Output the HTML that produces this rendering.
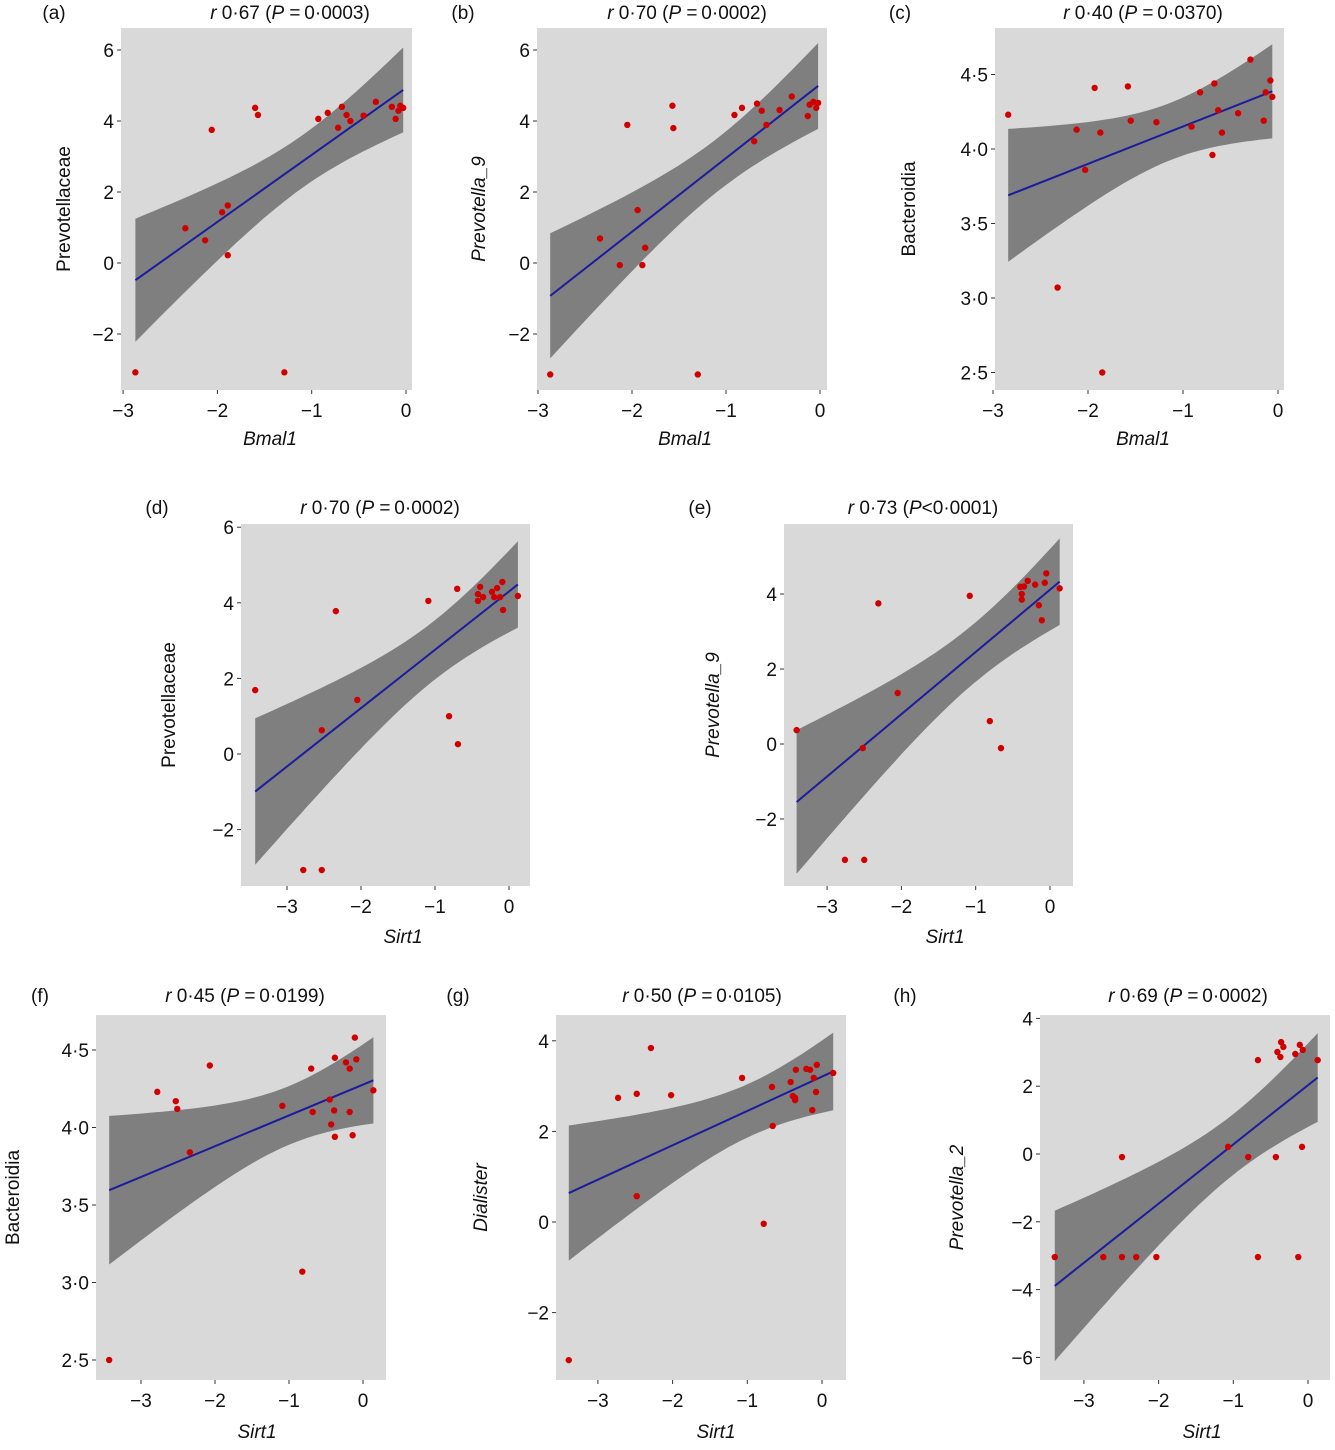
<!DOCTYPE html>
<html><head><meta charset="utf-8">
<style>
html,body{margin:0;padding:0;background:#fff;}
svg text{font-family:"Liberation Sans",Arial,sans-serif;fill:#111;}
</style></head>
<body>
<svg id="fig" width="1335" height="1445" viewBox="0 0 1335 1445" xmlns="http://www.w3.org/2000/svg"></svg>
<script>
// ---- data arrays (data units) ----
const aX=[-2.87,-2.34,-2.13,-1.95,-1.89,-1.89,-2.06,-1.60,-1.57,-1.29,-0.93,-0.83,-0.72,-0.68,-0.63,-0.59,-0.45,-0.32,-0.15,-0.11,-0.08,-0.06,-0.03];
const aY=[-3.08,0.98,0.64,1.43,1.62,0.22,3.75,4.37,4.17,-3.08,4.06,4.23,3.81,4.40,4.17,4.0,4.15,4.54,4.40,4.06,4.29,4.43,4.37];
const bX=[-2.87,-2.34,-2.13,-2.05,-1.94,-1.89,-1.86,-1.57,-1.56,-1.30,-0.91,-0.83,-0.70,-0.67,-0.62,-0.57,-0.43,-0.30,-0.13,-0.11,-0.07,-0.04,-0.02];
const bY=[-3.14,0.69,-0.06,3.89,1.49,-0.06,0.43,4.43,3.8,-3.14,4.17,4.37,3.43,4.49,4.29,3.89,4.31,4.69,4.14,4.46,4.54,4.37,4.51];
const cX=[-2.84,-2.12,-2.03,-1.93,-1.87,-1.85,-2.32,-1.58,-1.55,-1.28,-0.91,-0.82,-0.69,-0.67,-0.63,-0.59,-0.42,-0.29,-0.15,-0.13,-0.08,-0.06];
const cY=[4.23,4.13,3.86,4.41,4.11,2.50,3.07,4.42,4.19,4.18,4.15,4.38,3.96,4.44,4.26,4.11,4.24,4.60,4.19,4.38,4.46,4.35];
const dX=[-3.43,-2.53,-2.34,-2.05,-2.78,-2.53,-1.09,-0.81,-0.69,-0.70,-0.42,-0.42,-0.39,-0.35,-0.23,-0.20,-0.16,-0.12,-0.09,-0.08,0.12];
const dY=[1.69,0.63,3.78,1.43,-3.07,-3.07,4.05,1.0,0.26,4.37,4.23,4.05,4.42,4.15,4.29,4.15,4.39,4.15,4.55,3.81,4.18];
const eX=[-3.41,-2.76,-2.50,-2.52,-2.31,-2.05,-1.08,-0.81,-0.66,-0.40,-0.38,-0.35,-0.30,-0.20,-0.15,-0.11,-0.07,-0.05,0.13,-0.38];
const eY=[0.37,-3.09,-3.09,-0.11,3.75,1.36,3.95,0.61,-0.11,4.19,4.0,4.2,4.35,4.25,3.7,3.3,4.3,4.55,4.15,3.85];
const fX=[-3.43,-2.78,-2.53,-2.51,-2.34,-2.07,-1.09,-0.82,-0.70,-0.68,-0.45,-0.43,-0.39,-0.38,-0.38,-0.23,-0.18,-0.14,-0.11,-0.09,-0.18,0.14];
const fY=[2.50,4.23,4.17,4.12,3.84,4.40,4.14,3.07,4.38,4.10,4.18,4.02,4.11,4.45,3.94,4.42,4.38,3.95,4.58,4.44,4.10,4.24];
const gX=[-3.39,-2.73,-2.48,-2.48,-2.29,-2.02,-1.07,-0.78,-0.67,-0.66,-0.42,-0.39,-0.36,-0.35,-0.36,-0.21,-0.16,-0.13,-0.11,-0.07,-0.08,0.15];
const gY=[-3.05,2.74,2.83,0.57,3.84,2.80,3.18,-0.04,2.98,2.12,3.09,2.78,2.74,3.36,2.69,3.38,3.36,2.47,3.18,3.47,2.87,3.29];
const hX=[-3.39,-2.74,-2.49,-2.49,-2.30,-2.03,-1.07,-0.80,-0.67,-0.67,-0.43,-0.41,-0.37,-0.36,-0.33,-0.17,-0.13,-0.11,-0.08,-0.07,0.13];
const hY=[-3.04,-3.04,-0.09,-3.04,-3.04,-3.04,0.21,-0.09,-3.04,2.77,-0.09,3.01,2.86,3.30,3.16,2.95,-3.04,3.22,0.21,3.07,2.77];
const xTicks=[-3,-2,-1,0];
const yTicksA=[-2,0,2,4,6], yTicksC=[2.5,3.0,3.5,4.0,4.5], yTicksD=[-2,0,2,4,6], yTicksE=[-2,0,2,4], yTicksG=[-2,0,2,4], yTicksH=[-6,-4,-2,0,2,4];
const titles=["0·67","0·70","0·40","0·70","0·73","0·45","0·50","0·69"];
const pvals=["= 0·0003","= 0·0002","= 0·0370","= 0·0002","<0·0001","= 0·0199","= 0·0105","= 0·0002"];

const panels=[
 {id:'a',X:aX,Y:aY,r:[121,28,412,390],x0:406,xs:94.3,y0:263,yv0:0,ys:35.5,yt:yTicksA,dec:false,yl:'Prevotellaceae',yi:false,ylx:63,xl:'Bmal1',xlx:270,xly:445,tx:290,ty:19,lx:54},
 {id:'b',X:bX,Y:bY,r:[537,28,827,390],x0:820,xs:94,y0:263,yv0:0,ys:35.5,yt:yTicksA,dec:false,yl:'Prevotella_9',yi:true,ylx:478,xl:'Bmal1',xlx:685,xly:445,tx:687,ty:19,lx:463},
 {id:'c',X:cX,Y:cY,r:[995,28,1284,390],x0:1278,xs:95,y0:149,yv0:4,ys:149,yt:yTicksC,dec:true,yl:'Bacteroidia',yi:false,ylx:908,xl:'Bmal1',xlx:1143,xly:445,tx:1143,ty:19,lx:900},
 {id:'d',X:dX,Y:dY,r:[241,524,530,886],x0:509,xs:74,y0:754,yv0:0,ys:37.8,yt:yTicksD,dec:false,yl:'Prevotellaceae',yi:false,ylx:168,xl:'Sirt1',xlx:403,xly:943,tx:380,ty:514,lx:157},
 {id:'e',X:eX,Y:eY,r:[784,524,1073,886],x0:1050,xs:74.3,y0:744,yv0:0,ys:37.5,yt:yTicksE,dec:false,yl:'Prevotella_9',yi:true,ylx:712,xl:'Sirt1',xlx:945,xly:943,tx:923,ty:514,lx:700},
 {id:'f',X:fX,Y:fY,r:[96,1015,386,1380],x0:363,xs:74,y0:1050,yv0:4.5,ys:155,yt:yTicksC,dec:true,yl:'Bacteroidia',yi:false,ylx:12,xl:'Sirt1',xlx:257,xly:1438,tx:245,ty:1002,lx:40},
 {id:'g',X:gX,Y:gY,r:[556,1015,846,1380],x0:822,xs:74.7,y0:1222,yv0:0,ys:45.3,yt:yTicksG,dec:false,yl:'Dialister',yi:true,ylx:480,xl:'Sirt1',xlx:716,xly:1438,tx:702,ty:1002,lx:458},
 {id:'h',X:hX,Y:hY,r:[1040,1015,1330,1380],x0:1308,xs:74.7,y0:1154,yv0:0,ys:33.9,yt:yTicksH,dec:false,yl:'Prevotella_2',yi:true,ylx:956,xl:'Sirt1',xlx:1202,xly:1438,tx:1188,ty:1002,lx:905}
];
const NS='http://www.w3.org/2000/svg';
const svg=document.getElementById('fig');
function mk(tag,at,parent){const e=document.createElementNS(NS,tag);for(const k in at)e.setAttribute(k,at[k]);(parent||svg).appendChild(e);return e;}

panels.forEach((p,i)=>{
 const g=mk('g',{});
 
 
 const sx=v=>p.x0+v*p.xs, sy=v=>p.y0-(v-p.yv0)*p.ys;
 const bg=mk('rect',{x:p.r[0],y:p.r[1],width:p.r[2]-p.r[0],height:p.r[3]-p.r[1],fill:'#d9d9d9'},g);
 
 
 const n=p.X.length;let mx=0,my=0;for(let k=0;k<n;k++){mx+=p.X[k];my+=p.Y[k];}mx/=n;my/=n;
 let sxx=0,sxy=0;for(let k=0;k<n;k++){sxx+=(p.X[k]-mx)**2;sxy+=(p.X[k]-mx)*(p.Y[k]-my);}
 const b=sxy/sxx,a=my-b*mx;let sse=0;for(let k=0;k<n;k++)sse+=(p.Y[k]-a-b*p.X[k])**2;
 const s=Math.sqrt(sse/(n-2)),t=2.08;
 const xmin=Math.min(...p.X),xmax=Math.max(...p.X);
 const up=[],lo=[];
 for(let k=0;k<=40;k++){const x=xmin+(xmax-xmin)*k/40;const se=s*Math.sqrt(1/n+(x-mx)**2/sxx);const f=a+b*x;up.push(sx(x).toFixed(1)+','+sy(f+t*se).toFixed(1));lo.unshift(sx(x).toFixed(1)+','+sy(f-t*se).toFixed(1));}
 const band=mk('polygon',{points:up.concat(lo).join(' '),fill:'#7f7f7f'},g);
 
 
 const ln=mk('line',{x1:sx(xmin),y1:sy(a+b*xmin),x2:sx(xmax),y2:sy(a+b*xmax),stroke:'#1c1c9c','stroke-width':2},g);
 
 
 for(let k=0;k<n;k++){
  const c=mk('circle',{cx:sx(p.X[k]),cy:sy(p.Y[k]),r:3.2,fill:'#d10000'},g);
  
  
 }
 xTicks.forEach(v=>{
  mk('line',{x1:sx(v),x2:sx(v),y1:p.r[3],y2:p.r[3]+4,stroke:'#333','stroke-width':1},g);
  const tl=mk('text',{x:sx(v),y:p.r[3]+27,'font-size':19,'text-anchor':'middle'},g);
  tl.textContent=v<0?'\u2212'+Math.abs(v):String(v);
  
  
 });
 p.yt.forEach(v=>{
  mk('line',{x1:p.r[0]-4,x2:p.r[0],y1:sy(v),y2:sy(v),stroke:'#333','stroke-width':1},g);
  const tl=mk('text',{x:p.r[0]-7,y:sy(v)+7,'font-size':19,'text-anchor':'end'},g);
  tl.textContent=p.dec?v.toFixed(1).replace('.','·'):(v<0?'\u2212'+Math.abs(v):String(v));
  
  
 });
 const xl=mk('text',{x:p.xlx,y:p.xly,'font-size':19,'font-style':'italic','text-anchor':'middle'},g);
 xl.textContent=p.xl;
 
 
 const cy=(p.r[1]+p.r[3])/2;
 const yl=mk('text',{x:p.ylx+7,y:cy,'font-size':19,'text-anchor':'middle',transform:`rotate(-90 ${p.ylx+7} ${cy})`},g);
 if(p.yi)yl.setAttribute('font-style','italic');
 yl.textContent=p.yl;
 
 
 const tt=mk('text',{x:p.tx,y:p.ty,'font-size':19,'text-anchor':'middle'},g);
 tt.innerHTML='<tspan font-style="italic">r</tspan> '+titles[i]+' (<tspan font-style="italic">P</tspan>'+(pvals[i][0]=='<'?'':' ')+pvals[i].replace('= ','=\u2009')+')';
 
 
 const lt=mk('text',{x:p.lx,y:p.ty,'font-size':19,'text-anchor':'middle'},g);
 lt.textContent='('+p.id+')';
 
 
});
</script>
</body></html>
